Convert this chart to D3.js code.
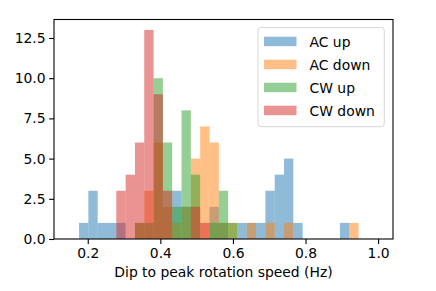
<!DOCTYPE html>
<html>
<head>
<meta charset="utf-8">
<script src="https://cdn.jsdelivr.net/npm/d3@7"></script>
<style>
body { margin: 0; background: #fff; }
svg { display: block; }
text { font-family: "DejaVu Sans", sans-serif; }
</style>
</head>
<body>
<div id="container"></div>
<script>
//Series names and colours (matplotlib tab10)
var seriesNames = ["AC up", "AC down", "CW up", "CW down"];
var seriesColors = ["#1f77b4", "#ff7f0e", "#2ca02c", "#d62728"];

//Shared histogram bins
var binStart = 0.176,
    binWidth = 0.02567,
    binCount = 30;

//Counts per bin
var acUp   = [1, 3, 1, 1, 1, 0, 0, 0, 0, 0, 3, 2, 0, 0, 2, 1, 0, 1, 1, 1, 3, 4, 5, 1, 0, 0, 0, 0, 1, 0];
var acDown = [0, 0, 0, 0, 0, 0, 1, 3, 6, 2, 1, 2, 5, 7, 6, 1, 1, 0, 1, 0, 1, 0, 1, 0, 0, 0, 0, 0, 0, 1];
var cwUp   = [0, 0, 0, 0, 0, 0, 1, 1, 10, 6, 2, 8, 4, 0, 1, 3, 1, 0, 0, 0, 0, 0, 0, 0, 0, 0, 0, 0, 0, 0];
var cwDown = [0, 0, 0, 0, 3, 4, 6, 13, 9, 3, 0, 0, 2, 1, 0, 0, 0, 0, 0, 0, 0, 0, 0, 0, 0, 0, 0, 0, 0, 0];

var xTicks = [0.2, 0.4, 0.6, 0.8, 1.0];
var yTicks = [0, 2.5, 5, 7.5, 10, 12.5];

var xLabel = "Dip to peak rotation speed (Hz)";

///////////////////////////////////////////////////////////////////////////
var width = 436, height = 291;
var margin = {top: 19.5, right: 43, bottom: 52, left: 54};
var innerW = width - margin.left - margin.right,
    innerH = height - margin.top - margin.bottom;

var x = d3.scaleLinear().domain([0.107, 1.041]).range([0, innerW]);
var y = d3.scaleLinear().domain([0, 13.65]).range([innerH, 0]);

var svg = d3.select("#container").append("svg")
    .attr("width", width)
    .attr("height", height);

var g = svg.append("g")
    .attr("transform", "translate(" + margin.left + "," + margin.top + ")");

var allSeries = [acUp, acDown, cwUp, cwDown];

//Draw each series as bars, in order, half transparent
allSeries.forEach(function (counts, s) {
    var bins = counts.map(function (c, i) {
        return {x0: binStart + i * binWidth, x1: binStart + (i + 1) * binWidth, count: c};
    }).filter(function (d) { return d.count > 0; });

    g.append("g")
        .selectAll("rect")
        .data(bins)
        .enter().append("rect")
        .attr("x", function (d) { return x(d.x0); })
        .attr("width", function (d) { return x(d.x1) - x(d.x0); })
        .attr("y", function (d) { return y(d.count); })
        .attr("height", function (d) { return y(0) - y(d.count); })
        .style("fill", seriesColors[s])
        .style("fill-opacity", 0.5);
});

//Axes
var xAxis = g.append("g")
    .attr("transform", "translate(0," + innerH + ")")
    .call(d3.axisBottom(x).tickValues(xTicks).tickFormat(d3.format(".1f"))
        .tickSize(4.9).tickPadding(4.2).tickSizeOuter(0));

var yAxis = g.append("g")
    .call(d3.axisLeft(y).tickValues(yTicks).tickFormat(d3.format(".1f"))
        .tickSize(4.9).tickPadding(3.5).tickSizeOuter(0));

[xAxis, yAxis].forEach(function (a) {
    a.select(".domain").remove();
    a.selectAll("line").attr("stroke", "#000").attr("stroke-width", 1.1);
    a.selectAll("text")
        .style("font-family", "DejaVu Sans")
        .style("font-size", "13.9px")
        .attr("fill", "#000");
});

//Frame
g.append("rect")
    .attr("width", innerW)
    .attr("height", innerH)
    .attr("fill", "none")
    .attr("stroke", "#000")
    .attr("stroke-width", 1.1);

//x label
svg.append("text")
    .attr("x", margin.left + innerW / 2)
    .attr("y", 277)
    .attr("text-anchor", "middle")
    .style("font-size", "13.9px")
    .text(xLabel);

//Legend
var legend = svg.append("g").attr("transform", "translate(258,27.5)");
legend.append("rect")
    .attr("width", 126.3)
    .attr("height", 99.2)
    .attr("rx", 3)
    .attr("fill", "#fff")
    .attr("fill-opacity", 0.8)
    .attr("stroke", "#d6d6d6")
    .attr("stroke-width", 1);

var rows = legend.selectAll(".row")
    .data(seriesNames)
    .enter().append("g")
    .attr("class", "row")
    .attr("transform", function (d, i) { return "translate(0," + (14 + i * 23) + ")"; });

rows.append("rect")
    .attr("x", 6)
    .attr("y", -4.8)
    .attr("width", 32.5)
    .attr("height", 9.5)
    .style("fill", function (d, i) { return seriesColors[i]; })
    .style("fill-opacity", 0.5);

rows.append("text")
    .attr("x", 51.5)
    .attr("y", 0)
    .attr("dy", "0.36em")
    .style("font-size", "13.9px")
    .text(function (d) { return d; });
</script>
</body>
</html>
